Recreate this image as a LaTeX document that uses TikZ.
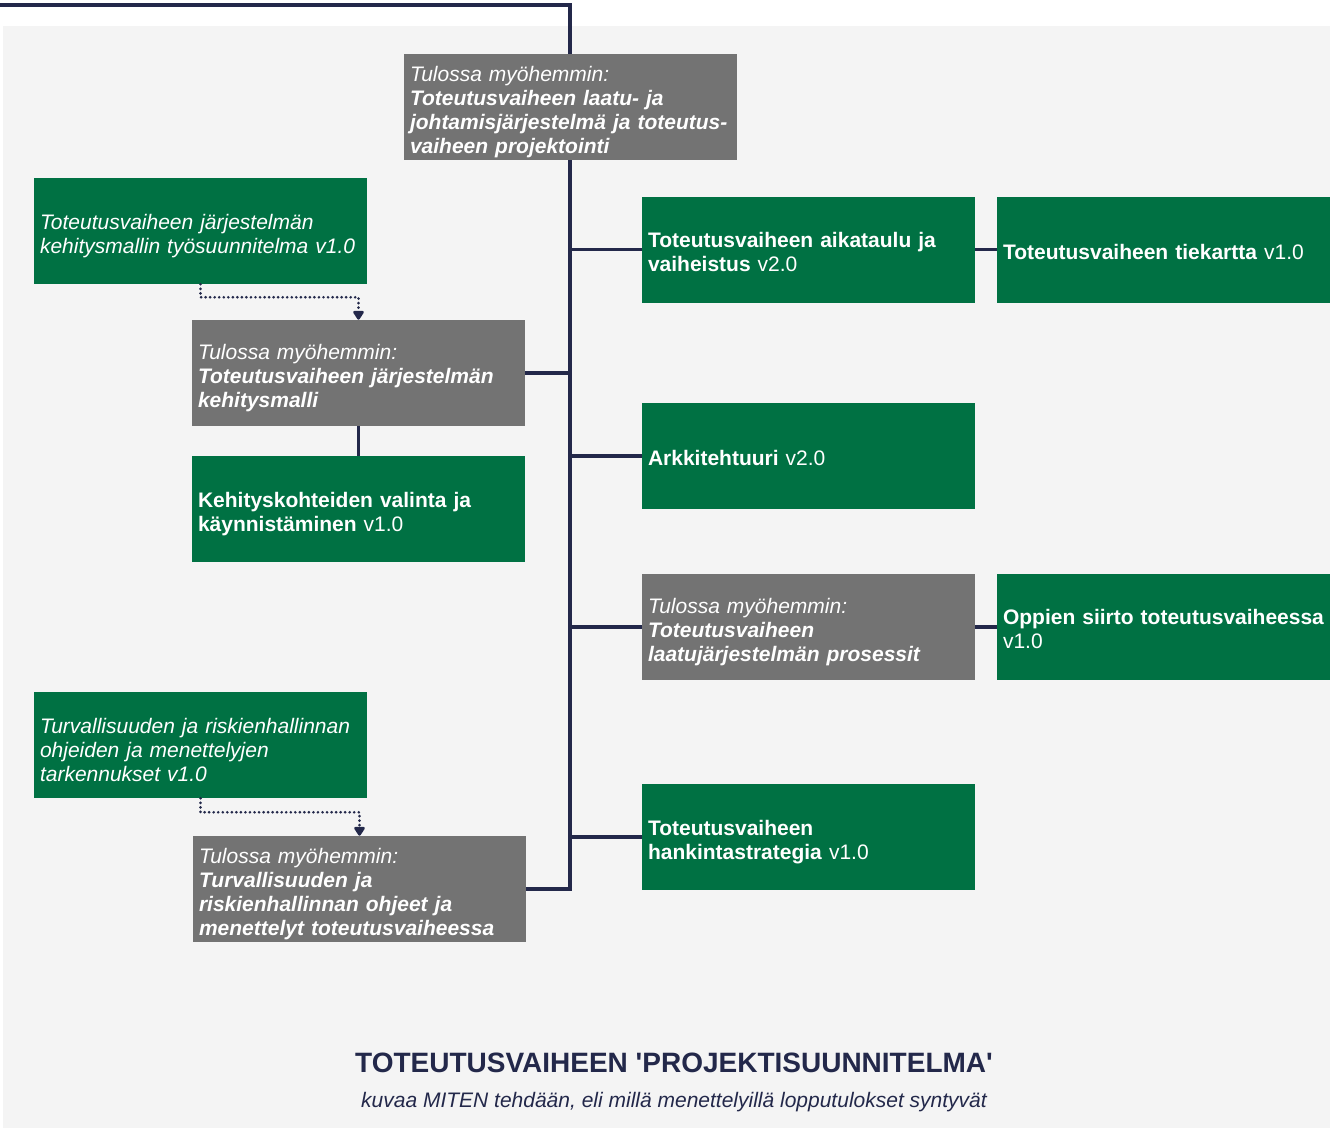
\documentclass[tikz,border=0pt]{standalone}
\usepackage{fontspec}
\setmainfont{Liberation Sans}
\usetikzlibrary{arrows.meta}
\definecolor{pgreen}{HTML}{007143}
\definecolor{pgrey}{HTML}{737373}
\definecolor{panel}{HTML}{F4F4F4}
\definecolor{navy}{HTML}{23284A}
\newcommand\bitx[1]{\textbf{\textit{#1}}}
\pgfdeclarelayer{back}
\pgfdeclarelayer{mid}
\pgfsetlayers{back,mid,main}
\tikzset{
  strutht/.initial=19pt,
  boxbase/.style={rectangle, minimum width=249.75pt, minimum height=79.5pt, inner xsep=4.5pt, inner ysep=0pt,
    text width=240.75pt, align=left, text=white, font=\fontsize{15.75pt}{18pt}\selectfont,
    execute at begin node={\rule{0pt}{\pgfkeysvalueof{/tikz/strutht}}}},
  lift/.style={strutht=14.5pt},
  gbox/.style={boxbase, fill=pgreen},
  ybox/.style={boxbase, fill=pgrey},
  conn/.style={draw=navy, line width=2.3pt},
  dotconn/.style={draw=navy, line width=2.2pt, line cap=round, dash pattern=on 0pt off 3.4pt,
    -{Triangle[width=9pt,length=7.5pt,round]}},
}
\begin{document}
\begin{tikzpicture}[x=0.75pt,y=-0.75pt]
\useasboundingbox (0,0) rectangle (1330,1128);
\begin{pgfonlayer}{back}
\fill[panel] (3,26) rectangle (1330,1128);
\end{pgfonlayer}

\node[ybox] (top) at (570.5,107) {\textit{Tulossa myöhemmin:}\\\bitx{Toteutusvaiheen laatu- ja}\\\bitx{johtamisjärjestelmä ja toteutus-}\\\bitx{vaiheen projektointi}};
\node[gbox] (kehsuun) at (200.5,231) {\textit{Toteutusvaiheen järjestelmän}\\\textit{kehitysmallin työsuunnitelma v1.0}};
\node[ybox] (kehmalli) at (358.5,373) {\textit{Tulossa myöhemmin:}\\\bitx{Toteutusvaiheen järjestelmän}\\\bitx{kehitysmalli}};
\node[gbox] (kohteet) at (358.5,509) {\textbf{Kehityskohteiden valinta ja}\\\textbf{käynnistäminen} v1.0};
\node[gbox, lift] (aika) at (808.5,249.5) {\textbf{Toteutusvaiheen aikataulu ja}\\\textbf{vaiheistus} v2.0};
\node[gbox, lift] (tie) at (1163.5,249.5) {\textbf{Toteutusvaiheen tiekartta} v1.0};
\node[gbox, lift] (arkki) at (808.5,456) {\textbf{Arkkitehtuuri} v2.0};
\node[ybox] (laatu) at (808.5,627) {\textit{Tulossa myöhemmin:}\\\bitx{Toteutusvaiheen}\\\bitx{laatujärjestelmän prosessit}};
\node[gbox, lift] (oppien) at (1163.5,627) {\mbox{\textbf{Oppien siirto toteutusvaiheessa}}\\v1.0};
\node[gbox] (hank) at (808.5,837) {\textbf{Toteutusvaiheen}\\\textbf{hankintastrategia} v1.0};
\node[gbox] (turvg) at (200.5,745) {\textit{Turvallisuuden ja riskienhallinnan}\\\textit{ohjeiden ja menettelyjen}\\\textit{tarkennukset v1.0}};
\node[ybox] (turvy) at (359.5,889) {\textit{Tulossa myöhemmin:}\\\bitx{Turvallisuuden ja}\\\bitx{riskienhallinnan ohjeet ja}\\\bitx{menettelyt toteutusvaiheessa}};

\node[text=navy, font=\fontsize{21pt}{24pt}\selectfont\bfseries] (title) at (674,1063) {TOTEUTUSVAIHEEN \textquotesingle PROJEKTISUUNNITELMA\textquotesingle};
\node[text=navy, font=\fontsize{15.75pt}{18pt}\selectfont\itshape] (sub) at (674,1102) {kuvaa MITEN tehdään, eli millä menettelyillä lopputulokset syntyvät};

\coordinate (tl) at (0,5);
\coordinate (sb) at (570,889);
\begin{pgfonlayer}{mid}
\draw[conn] (tl) -| (sb) -- (turvy.east);
\draw[conn] (sb |- aika.west) -- (aika.west);
\draw[conn] (aika.east) -- (tie.west);
\draw[conn] (kehmalli.east) -- (sb |- kehmalli.east);
\draw[conn] (sb |- arkki.west) -- (arkki.west);
\draw[conn] (sb |- laatu.west) -- (laatu.west);
\draw[conn] (laatu.east) -- (oppien.west);
\draw[conn] (sb |- hank.west) -- (hank.west);
\draw[conn] (kehmalli.south) -- (kohteet.north);
\end{pgfonlayer}
\draw[dotconn] (kehsuun.south) -- ++(0,13) -| (kehmalli.north);
\draw[dotconn] (turvg.south) -- ++(0,14) -| (turvy.north);
\end{tikzpicture}
\end{document}
